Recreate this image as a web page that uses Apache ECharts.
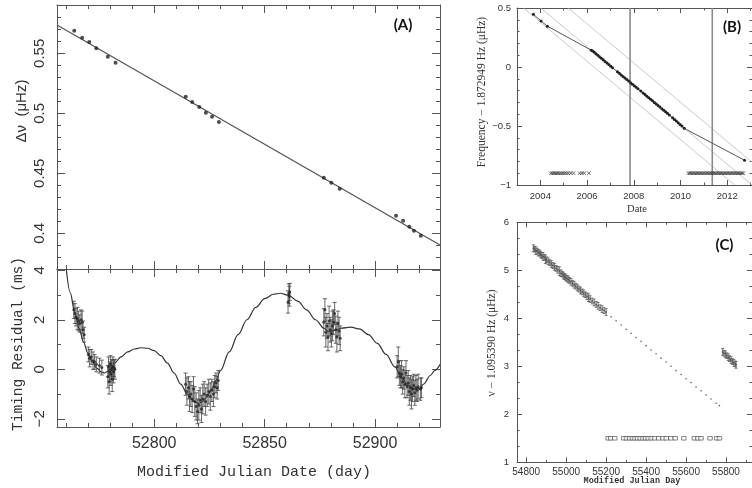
<!DOCTYPE html>
<html>
<head>
<meta charset="utf-8">
<script src="https://cdn.jsdelivr.net/npm/echarts@6/dist/echarts.min.js"></script>
<style>
  html, body { margin: 0; padding: 0; background: #fff; }
  #chart { width: 752px; height: 488px; }
</style>
</head>
<body>
<div id="chart"></div>
<script>
// ---------- Panel (A), upper: frequency difference vs MJD ----------
const mjdA = [52763.8, 52767.4, 52770.6, 52773.8, 52779.0, 52782.5, 52814.3, 52817.2, 52820.4, 52823.4,
              52826.2, 52829.3, 52876.8, 52880.2, 52884.0, 52909.5, 52912.7, 52915.5, 52917.6, 52920.7];
const dnuA = [0.5688, 0.5630, 0.5594, 0.5542, 0.5472, 0.5422, 0.5138, 0.5094, 0.5053, 0.5005,
              0.4972, 0.4928, 0.4463, 0.4422, 0.4372, 0.4147, 0.4105, 0.4055, 0.4022, 0.3980];
const fitMjdA = [52756.0, 52929.4];
const fitDnuA = [0.5736, 0.3903];

// ---------- Panel (A), lower: timing residuals ----------
const curveMjd = [52760.2, 52762, 52764, 52766, 52768, 52770, 52772, 52774, 52776, 52777.5, 52779, 52780.5,
                  52782, 52785, 52788, 52791, 52794, 52797, 52800, 52803, 52806, 52809, 52812, 52815, 52818,
                  52820, 52822, 52824, 52826, 52828, 52830, 52834, 52838, 52842, 52846, 52850, 52854, 52857,
                  52861, 52865, 52869, 52873, 52877, 52879, 52882, 52885, 52889, 52893, 52897, 52901, 52905,
                  52909, 52912, 52915, 52918, 52920, 52922, 52925, 52927, 52929.4];
const curveRes = [4.05, 3.1, 2.3, 1.65, 1.1, 0.65, 0.3, 0.05, -0.1, -0.15, -0.08, 0.06,
                  0.25, 0.5, 0.7, 0.82, 0.87, 0.85, 0.75, 0.55, 0.25, -0.15, -0.6, -1.0, -1.3,
                  -1.38, -1.3, -1.1, -0.8, -0.45, -0.05, 0.7, 1.4, 2.0, 2.5, 2.85, 3.03, 3.07,
                  2.98, 2.75, 2.4, 2.0, 1.65, 1.52, 1.58, 1.66, 1.7, 1.63, 1.4, 1.05, 0.6,
                  0.1, -0.35, -0.65, -0.8, -0.78, -0.6, -0.25, -0.05, 0.2];

const residMjd = [52763.6, 52764.1, 52764.6, 52765.2, 52765.8, 52766.3, 52766.9, 52767.4, 52767.8, 52768.3,
                  52770.2, 52770.8, 52771.5, 52772.3, 52773.0, 52773.8, 52775.2, 52776.3,
                  52779.0, 52779.3, 52779.6, 52779.9, 52780.2, 52780.4, 52780.7, 52781.0, 52781.3, 52781.6, 52781.9, 52782.2,
                  52814.2, 52814.8, 52815.5, 52816.0, 52816.6, 52817.2, 52817.8, 52818.4, 52819.0, 52819.6,
                  52820.2, 52820.8, 52821.4, 52822.0, 52822.6, 52823.3, 52824.0, 52824.7, 52825.4, 52826.1,
                  52826.8, 52827.4, 52828.0, 52828.5, 52829.0,
                  52860.6, 52861.0, 52861.4, 52861.2,
                  52876.8, 52877.3, 52877.7, 52878.2, 52878.7, 52879.2, 52879.7, 52880.2, 52880.7, 52881.2,
                  52881.7, 52882.2, 52882.7, 52883.2, 52883.7, 52884.2,
                  52910.0, 52910.5, 52911.0, 52911.5, 52912.0, 52912.5, 52913.0, 52913.5, 52914.0, 52914.5,
                  52915.0, 52915.5, 52916.0, 52916.5, 52917.0, 52917.5, 52918.0, 52918.5, 52919.0, 52919.5,
                  52920.5, 52921.0];
const residVal = [2.4, 2.25, 2.1, 2.05, 1.95, 1.85, 2.0, 1.9, 1.6, 1.4,
                  0.6, 0.45, 0.5, 0.35, 0.3, 0.2, 0.15, 0.07,
                  -0.3, 0.1, -0.5, -0.1, 0.2, -0.2, 0.0, -0.4, 0.1, -0.1, 0.05, 0.0,
                  -0.6, -0.9, -0.75, -1.1, -1.0, -1.2, -0.8, -1.3, -1.5, -1.7,
                  -1.45, -1.25, -1.6, -1.2, -1.0, -1.3, -1.05, -0.9, -1.1, -0.85,
                  -1.0, -0.7, -0.55, -0.75, -0.45,
                  2.72, 3.05, 3.12, 2.95,
                  1.9, 2.4, 1.5, 1.75, 1.3, 1.95, 1.6, 1.45, 1.75, 1.9,
                  2.25, 1.6, 1.3, 1.85, 1.55, 1.25,
                  0.1, 0.3, -0.15, -0.3, -0.2, -0.5, -0.35, -0.6, -0.15, -0.7,
                  -0.55, -0.9, -0.75, -1.0, -0.8, -0.65, -0.95, -0.75, -0.85, -0.7,
                  -0.8, -0.75];
const residErr = [0.35, 0.4, 0.35, 0.45, 0.4, 0.35, 0.4, 0.45, 0.35, 0.3,
                  0.3, 0.35, 0.3, 0.35, 0.3, 0.3, 0.3, 0.3,
                  0.45, 0.4, 0.5, 0.4, 0.35, 0.45, 0.4, 0.5, 0.4, 0.45, 0.35, 0.4,
                  0.45, 0.55, 0.45, 0.6, 0.5, 0.55, 0.5, 0.6, 0.55, 0.5,
                  0.6, 0.5, 0.55, 0.6, 0.5, 0.55, 0.45, 0.5, 0.55, 0.45,
                  0.5, 0.45, 0.4, 0.45, 0.4,
                  0.45, 0.4, 0.35, 0.4,
                  0.55, 0.45, 0.6, 0.5, 0.55, 0.6, 0.5, 0.55, 0.6, 0.5,
                  0.45, 0.55, 0.6, 0.5, 0.55, 0.5,
                  0.45, 0.6, 0.5, 0.45, 0.55, 0.5, 0.45, 0.55, 0.5, 0.45,
                  0.5, 0.55, 0.5, 0.6, 0.5, 0.45, 0.5, 0.5, 0.45, 0.5,
                  0.45, 0.4];

// ---------- Panel (B): frequency offset vs date ----------
const dateB = [2003.7, 2004.03, 2004.3,
               2006.18, 2006.24, 2006.31, 2006.38, 2006.46, 2006.53, 2006.61, 2006.69, 2006.77, 2006.85, 2006.93,
               2007.01, 2007.09, 2007.30, 2007.38, 2007.46, 2007.54, 2007.62, 2007.70, 2007.78, 2007.86, 2007.94,
               2008.02, 2008.10, 2008.18, 2008.30, 2008.40, 2008.48, 2008.56, 2008.64, 2008.72, 2008.80, 2008.88,
               2008.96, 2009.04, 2009.12, 2009.20, 2009.28, 2009.36, 2009.44, 2009.52, 2009.66, 2009.74, 2009.82,
               2009.90, 2009.98, 2010.06, 2010.16,
               2012.74];
const freqB = [0.446, 0.39, 0.346,
               0.142, 0.136, 0.124, 0.112, 0.100, 0.086, 0.074, 0.062, 0.047, 0.034, 0.021,
               0.006, -0.006, -0.040, -0.053, -0.067, -0.080, -0.093, -0.106, -0.119, -0.133, -0.146,
               -0.159, -0.172, -0.185, -0.204, -0.221, -0.234, -0.247, -0.260, -0.274, -0.287, -0.300,
               -0.313, -0.327, -0.340, -0.353, -0.366, -0.380, -0.393, -0.406, -0.430, -0.444, -0.458,
               -0.472, -0.487, -0.501, -0.520,
               -0.790];
const guideB = [
  { from: [2003.28, 0.5], to: [2012.32, -1.0] },
  { from: [2004.02, 0.5], to: [2013.06, -1.0] },
  { from: [2005.19, 0.5], to: [2013.06, -0.807] }
];
const eventsB = [2007.84, 2011.36];
const crossB = [2004.45, 2004.52, 2004.58, 2004.64, 2004.70, 2004.76, 2004.83, 2004.90, 2004.97, 2005.04,
                2005.12, 2005.20, 2005.30, 2005.42, 2005.68, 2005.78, 2005.88, 2006.08,
                2010.34, 2010.40, 2010.46, 2010.52, 2010.58, 2010.64, 2010.70, 2010.76, 2010.82, 2010.88,
                2010.94, 2011.00, 2011.07, 2011.13, 2011.19, 2011.25, 2011.31, 2011.37, 2011.43, 2011.49,
                2011.55, 2011.61, 2011.67, 2011.73, 2011.79, 2011.85, 2011.91, 2011.97, 2012.03, 2012.09,
                2012.15, 2012.21, 2012.27, 2012.33, 2012.39, 2012.45, 2012.51, 2012.57, 2012.63, 2012.69];
const crossLevelB = -0.9;

// ---------- Panel (C): frequency offset vs MJD ----------
const mjdC = [54836, 54842, 54848, 54854, 54860, 54866, 54872, 54878, 54884, 54890, 54896, 54902, 54910,
              54918, 54926, 54934, 54942, 54950, 54958, 54966, 54974, 54980, 54986, 54992, 54998, 55004,
              55010, 55016, 55024, 55032, 55040, 55048, 55056, 55064, 55072, 55080, 55088, 55096, 55104,
              55112, 55120, 55130, 55140, 55150, 55160, 55170, 55180, 55190, 55200];
const nuC = [5.46, 5.44, 5.41, 5.40, 5.37, 5.36, 5.33, 5.31, 5.29, 5.27, 5.23, 5.22, 5.19,
             5.16, 5.13, 5.10, 5.07, 5.04, 5.01, 4.98, 4.94, 4.92, 4.89, 4.87, 4.85, 4.83,
             4.81, 4.79, 4.76, 4.73, 4.70, 4.67, 4.64, 4.61, 4.58, 4.55, 4.52, 4.49, 4.46,
             4.43, 4.40, 4.36, 4.33, 4.29, 4.26, 4.22, 4.19, 4.16, 4.13];
const errC = [0.07, 0.06, 0.08, 0.06, 0.07, 0.06, 0.07, 0.06, 0.08, 0.06, 0.09, 0.06, 0.07,
              0.06, 0.07, 0.06, 0.07, 0.06, 0.07, 0.09, 0.07, 0.06, 0.07, 0.06, 0.07, 0.06,
              0.07, 0.06, 0.07, 0.06, 0.07, 0.06, 0.07, 0.06, 0.07, 0.06, 0.07, 0.06, 0.07,
              0.08, 0.07, 0.06, 0.07, 0.06, 0.07, 0.06, 0.07, 0.06, 0.07];
const mjdDots = [55225, 55250, 55275, 55300, 55325, 55350, 55375, 55400, 55425, 55450, 55475, 55500,
                 55525, 55550, 55575, 55600, 55625, 55650, 55675, 55700, 55725, 55750, 55767];
const nuDots = [4.03, 3.95, 3.86, 3.77, 3.69, 3.60, 3.52, 3.43, 3.34, 3.26, 3.17, 3.09,
                3.00, 2.91, 2.83, 2.74, 2.66, 2.57, 2.49, 2.40, 2.32, 2.23, 2.18];
const mjdC2 = [55783, 55790, 55797, 55804, 55811, 55818, 55825, 55832, 55839, 55846, 55850];
const nuC2 = [3.30, 3.27, 3.25, 3.22, 3.19, 3.16, 3.13, 3.10, 3.07, 3.05, 3.03];
const errC2 = [0.07, 0.06, 0.07, 0.06, 0.07, 0.06, 0.07, 0.06, 0.07, 0.06, 0.07];
const obsC = [55210, 55223, 55243, 55288, 55302, 55318, 55332, 55345, 55358, 55371, 55385, 55398, 55411,
              55426, 55443, 55463, 55484, 55501, 55524, 55546, 55589, 55642, 55659, 55675, 55720, 55753, 55767];
const obsLevelC = 1.5;

// ---------- helpers ----------
const INK = '#222';
const AXIS = '#555';
const minus = v => String(v).replace('-', '\u2212');

function axis(o) {
  const a = {
    type: 'value', gridIndex: o.grid, position: o.pos,
    min: o.min, max: o.max, minInterval: o.step, maxInterval: o.step, splitNumber: 5,
    splitLine: { show: false },
    axisLine: { show: true, onZero: false, lineStyle: { color: AXIS, width: 1 } },
    axisTick: { show: true, inside: true, length: o.tick, lineStyle: { color: AXIS, width: 1 } },
    minorTick: { show: true, splitNumber: o.minor, length: o.tick / 2, lineStyle: { color: AXIS, width: 1 } },
    axisLabel: { show: false },
    silent: true
  };
  if (o.label) {
    a.axisLabel = Object.assign({
      show: true, color: '#333', formatter: minus, showMinLabel: o.showEnds, showMaxLabel: o.showEnds
    }, o.label);
  }
  return a;
}

function errorBars(xs, ys, es, xi, yi, cap, color, width) {
  return {
    type: 'custom', xAxisIndex: xi, yAxisIndex: yi, silent: true, z: 3,
    data: xs.map((x, i) => [x, ys[i], es[i]]),
    renderItem: (params, api) => {
      const x = api.value(0), y = api.value(1), e = api.value(2);
      const lo = api.coord([x, y - e]), hi = api.coord([x, y + e]);
      const st = { stroke: color, lineWidth: width };
      return {
        type: 'group',
        children: [
          { type: 'line', shape: { x1: lo[0], y1: lo[1], x2: hi[0], y2: hi[1] }, style: st },
          { type: 'line', shape: { x1: lo[0] - cap, y1: lo[1], x2: lo[0] + cap, y2: lo[1] }, style: st },
          { type: 'line', shape: { x1: hi[0] - cap, y1: hi[1], x2: hi[0] + cap, y2: hi[1] }, style: st }
        ]
      };
    }
  };
}

const zip = (a, b) => a.map((v, i) => [v, b[i]]);

// ---------- axis ranges ----------
const xA = { min: 52756, max: 52929.4, step: 50, minor: 5, tick: 8 };
const yA1 = { min: 0.3703, max: 0.5903, step: 0.05, minor: 5, tick: 8 };
const yA2 = { min: -2.33, max: 4.05, step: 2, minor: 2, tick: 8 };
const xB = { min: 2003, max: 2013.06, step: 2, minor: 2, tick: 5 };
const yB = { min: -1, max: 0.5, step: 0.5, minor: 5, tick: 5 };
const xC = { min: 54754, max: 55930, step: 200, minor: 2, tick: 5 };
const yC = { min: 1, max: 6, step: 1, minor: 3, tick: 5 };

const sans = '"Liberation Sans", Arial, sans-serif';

const xAxes = [
  axis(Object.assign({ grid: 0, pos: 'bottom' }, xA)),
  axis(Object.assign({ grid: 0, pos: 'top' }, xA)),
  axis(Object.assign({ grid: 1, pos: 'bottom', showEnds: false,
    label: { fontFamily: sans, fontSize: 16, margin: 9 } }, xA)),
  axis(Object.assign({ grid: 1, pos: 'top' }, xA)),
  axis(Object.assign({ grid: 2, pos: 'bottom', showEnds: false,
    label: { fontFamily: sans, fontSize: 9.5, margin: 6 } }, xB)),
  axis(Object.assign({ grid: 2, pos: 'top' }, xB)),
  axis(Object.assign({ grid: 3, pos: 'bottom', showEnds: false,
    label: { fontFamily: sans, fontSize: 10, margin: 5 } }, xC)),
  axis(Object.assign({ grid: 3, pos: 'top' }, xC))
];
const yAxes = [
  axis(Object.assign({ grid: 0, pos: 'left', showEnds: false,
    label: { fontFamily: sans, fontSize: 15, rotate: 90, margin: 10 } }, yA1)),
  axis(Object.assign({ grid: 0, pos: 'right' }, yA1)),
  axis(Object.assign({ grid: 1, pos: 'left', showEnds: false,
    label: { fontFamily: sans, fontSize: 15, rotate: 90, margin: 10 } }, yA2)),
  axis(Object.assign({ grid: 1, pos: 'right' }, yA2)),
  axis(Object.assign({ grid: 2, pos: 'left', showEnds: true,
    label: { fontFamily: sans, fontSize: 9.5, margin: 6 } }, yB)),
  axis(Object.assign({ grid: 2, pos: 'right' }, yB)),
  axis(Object.assign({ grid: 3, pos: 'left', showEnds: true,
    label: { fontFamily: sans, fontSize: 9.5, margin: 8 } }, yC)),
  axis(Object.assign({ grid: 3, pos: 'right' }, yC))
];

const crossPath = 'path://M0,0L10,10M10,0L0,10';

const series = [
  // (A) upper: measurements and linear fit
  { type: 'line', xAxisIndex: 0, yAxisIndex: 0, data: zip(fitMjdA, fitDnuA), symbol: 'none',
    lineStyle: { color: '#555', width: 1.3 }, silent: true },
  { type: 'scatter', xAxisIndex: 0, yAxisIndex: 0, data: zip(mjdA, dnuA), symbol: 'circle', symbolSize: 4,
    itemStyle: { color: INK }, silent: true, z: 4 },
  // (A) lower: orbital model curve and residuals with error bars
  { type: 'line', xAxisIndex: 2, yAxisIndex: 2, data: zip(curveMjd, curveRes), symbol: 'none', smooth: 0.35,
    smoothMonotone: 'x', lineStyle: { color: '#333', width: 1.2 }, silent: true, z: 2 },
  errorBars(residMjd, residVal, residErr, 2, 2, 2, '#444', 0.8),
  { type: 'scatter', xAxisIndex: 2, yAxisIndex: 2, data: zip(residMjd, residVal), symbol: 'circle', symbolSize: 3,
    itemStyle: { color: INK }, silent: true, z: 4 },
  // (B): guide lines, event markers, frequency track, observation epochs
  ...guideB.map(g => ({ type: 'line', xAxisIndex: 4, yAxisIndex: 4, data: [g.from, g.to], symbol: 'none',
    lineStyle: { color: '#bdbdbd', width: 0.8 }, silent: true, z: 1 })),
  ...eventsB.map(t => ({ type: 'line', xAxisIndex: 4, yAxisIndex: 4, data: [[t, yB.min], [t, yB.max]], symbol: 'none',
    lineStyle: { color: '#8a8a8a', width: 1.6 }, silent: true, z: 1 })),
  { type: 'line', xAxisIndex: 4, yAxisIndex: 4, data: zip(dateB, freqB), symbol: 'circle', symbolSize: 3,
    itemStyle: { color: INK }, lineStyle: { color: '#555', width: 1 }, silent: true, z: 3 },
  { type: 'scatter', xAxisIndex: 4, yAxisIndex: 4, data: crossB.map(t => [t, crossLevelB]), symbol: crossPath,
    symbolSize: 3.5, itemStyle: { color: 'none', borderColor: '#333', borderWidth: 0.9 }, silent: true },
  // (C): two timing segments, extrapolation dots, observation epochs
  errorBars(mjdC, nuC, errC, 6, 6, 1.5, '#555', 0.8),
  { type: 'scatter', xAxisIndex: 6, yAxisIndex: 6, data: zip(mjdC, nuC), symbol: 'circle', symbolSize: 2,
    itemStyle: { color: '#333' }, silent: true },
  { type: 'scatter', xAxisIndex: 6, yAxisIndex: 6, data: zip(mjdDots, nuDots), symbol: 'circle', symbolSize: 1.6,
    itemStyle: { color: '#333' }, silent: true },
  errorBars(mjdC2, nuC2, errC2, 6, 6, 1.5, '#555', 0.8),
  { type: 'scatter', xAxisIndex: 6, yAxisIndex: 6, data: zip(mjdC2, nuC2), symbol: 'circle', symbolSize: 2,
    itemStyle: { color: '#333' }, silent: true },
  { type: 'scatter', xAxisIndex: 6, yAxisIndex: 6, data: obsC.map(t => [t, obsLevelC]), symbol: 'rect',
    symbolSize: [4.5, 3.5], itemStyle: { color: '#fff', borderColor: '#444', borderWidth: 0.8 }, silent: true }
];

function vText(text, x, y, font) {
  return { type: 'text', x: x, y: y, rotation: Math.PI / 2, silent: true,
    style: { text: text, font: font, fill: '#333', align: 'center', verticalAlign: 'middle',
             textAlign: 'center', textVerticalAlign: 'middle' } };
}
function hText(text, x, y, font, color) {
  return { type: 'text', x: x, y: y, silent: true,
    style: { text: text, font: font, fill: color || '#333', align: 'center', verticalAlign: 'middle',
             textAlign: 'center', textVerticalAlign: 'middle' } };
}

const option = {
  animation: false,
  backgroundColor: '#fff',
  grid: [
    { left: 57, top: 5, width: 383, height: 264 },
    { left: 57, top: 269, width: 383, height: 158 },
    { left: 517, top: 8, width: 236.5, height: 177 },
    { left: 517, top: 222.3, width: 236.5, height: 240 }
  ],
  xAxis: xAxes,
  yAxis: yAxes,
  series: series,
  graphic: [
    vText('\u0394\u03bd  (\u03bcHz)', 22, 111, '15px "Liberation Sans", Arial, sans-serif'),
    vText('Timing Residual (ms)', 18, 344, '14.5px "Liberation Mono", monospace'),
    hText('Modified Julian Date (day)', 254, 472, '15px "Liberation Mono", monospace'),
    hText('(A)', 403, 25, 'bold 15px Lato, sans-serif', '#111'),
    vText('Frequency \u2212 1.872949 Hz (\u03bcHz)', 481.5, 92, '11.5px "Liberation Serif", serif'),
    hText('Date', 637, 209.5, '10.5px "Liberation Serif", serif'),
    hText('(B)', 732, 27, 'bold 15px Lato, sans-serif', '#111'),
    vText('\u03bd \u2212 1.095390 Hz (\u03bcHz)', 491.5, 343, '11.5px "Liberation Serif", serif'),
    hText('Modified Julian Day', 632, 481, 'bold 8.5px "Liberation Mono", monospace'),
    hText('(C)', 724.5, 245, 'bold 15px Lato, sans-serif', '#111')
  ]
};

const chart = echarts.init(document.getElementById('chart'), null, { renderer: 'canvas' });
chart.setOption(option);
</script>
</body>
</html>
